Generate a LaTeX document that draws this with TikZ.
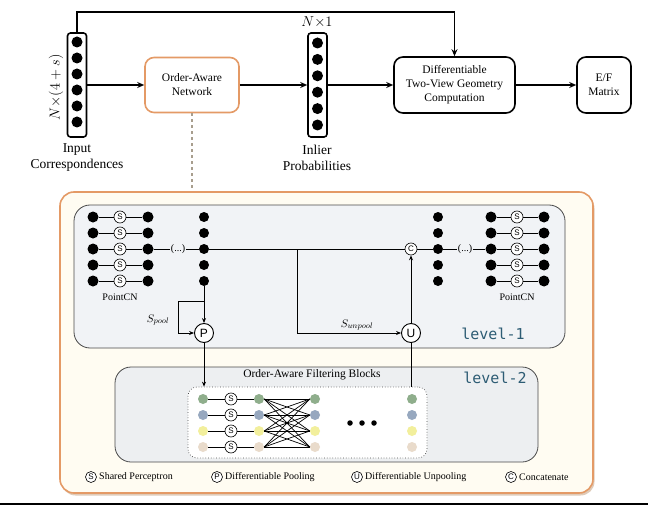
\documentclass[tikz,border=0pt]{standalone}
\usepackage{fontspec}
\setmainfont{Liberation Serif}
\setsansfont{Liberation Sans}
\newfontfamily\serf{Liberation Serif}
\newfontfamily\lvfont{DejaVu Sans Mono}
\usetikzlibrary{arrows.meta,calc,shadows}
\definecolor{orng}{HTML}{E49A66}
\definecolor{cream}{HTML}{FFFCF2}
\definecolor{dashc}{HTML}{A89E8E}
\definecolor{lev}{HTML}{F1F3F6}
\definecolor{levb}{HTML}{EDEFF1}
\definecolor{lvc}{HTML}{2D5C74}
\definecolor{fg}{HTML}{8FAE8C}
\definecolor{fb}{HTML}{97A8BF}
\definecolor{fy}{HTML}{F2EF9C}
\definecolor{fk}{HTML}{E9DBCB}
\definecolor{bordc}{HTML}{4A4A4A}
\definecolor{shad}{HTML}{C9A88A}
\begin{document}
\begin{tikzpicture}[x=1pt,y=-1pt,
 dotn/.style={circle,fill=black,inner sep=0pt,minimum size=11pt},
 sdot/.style={circle,fill=black,inner sep=0pt,minimum size=10pt},
 sc/.style={circle,draw,line width=0.6pt,inner sep=0pt,minimum size=12pt,font=\sffamily\fontsize{8}{8}\selectfont,fill=white},
 bc/.style={circle,draw,line width=0.9pt,inner sep=0pt,minimum size=19pt,font=\sffamily\fontsize{12}{12}\selectfont,fill=white},
 colbox/.style={draw,line width=1.6pt,rounded corners=3pt,minimum width=19pt,minimum height=104pt,inner sep=0pt},
 topbox/.style={draw,line width=1.6pt,rounded corners=9pt,align=center,inner sep=0pt,font=\serf\fontsize{11.5}{14}\selectfont},
 arr/.style={-{Stealth[length=7pt,width=6pt]},line width=1.4pt},
 arrs/.style={-{Stealth[length=5pt,width=4pt]},line width=0.9pt},
 ln/.style={line width=0.9pt},
 lbl/.style={align=center,font=\serf\fontsize{13.5}{16}\selectfont,inner sep=0pt},
 small/.style={font=\serf\fontsize{10}{10}\selectfont,inner sep=0.5pt},
 legt/.style={anchor=west,font=\serf\fontsize{10}{10}\selectfont,inner sep=0pt},
 lvl/.style={font=\lvfont\fontsize{15}{15}\selectfont,text=lvc,inner sep=0pt},
 fdot/.style={circle,inner sep=0pt,minimum size=10pt}
]
\useasboundingbox (0,0) rectangle (648,508);

% ---------- top row ----------
\node[colbox] (inp) at (77,85) {};
\foreach \i in {0,...,5} \node[dotn] (in\i) at (77,{42+16*\i}) {};
\node[lbl,rotate=90] (inlab) at (56,87) {$N{\times}(4+s)$};
\node[lbl] (inptxt) at (77,158) {Input\\Correspondences};

\node[topbox,draw=orng,fill=white,minimum width=94pt,minimum height=55pt] (oan) at (192,85) {Order-Aware\\Network};

\node[colbox] (inl) at (317.5,85) {};
\foreach \i in {0,...,5} \node[dotn] (il\i) at (317.5,{43+16.4*\i}) {};
\node[lbl] (inllab) at (317,22) {$N{\times}1$};
\node[lbl] (inltxt) at (317,158) {Inlier\\Probabilities};

\node[topbox,minimum width=121pt,minimum height=56pt] (diff) at (454.5,85) {Differentiable\\Two-View Geometry\\Computation};
\node[topbox,minimum width=54pt,minimum height=56pt] (ef) at (604,85) {E/F\\Matrix};

\draw[arr] (inp) -- (oan);
\draw[arr] (oan) -- (inl);
\draw[arr] (inl) -- (diff);
\draw[arr] (diff) -- (ef);
\coordinate (topc) at (0,12);
\draw[arr] (inp.north) -- (inp.north |- topc) -| (diff.north);

% ---------- outer box ----------
\node[draw=orng,line width=1.6pt,fill=cream,rounded corners=14pt,minimum width=533pt,minimum height=301pt,inner sep=0pt,
      drop shadow={shadow xshift=1.5pt,shadow yshift=-2.5pt,opacity=0.6,fill=shad}] (outer) at (326.5,342.5) {};
\draw[dashed,draw=dashc,line width=1.3pt] (oan.south) -- (oan.south |- outer.north);

% ---------- level 1 ----------
\node[draw=bordc,line width=0.8pt,fill=lev,rounded corners=16pt,minimum width=491pt,minimum height=143pt,inner sep=0pt] (lv1) at (319.5,276.5) {};

\foreach \i in {0,...,4} {
  \node[dotn] (la\i) at (93,{217+16*\i}) {};
  \node[sc] (ls\i) at (120,{217+16*\i}) {S};
  \node[dotn] (lb\i) at (148,{217+16*\i}) {};
  \draw[ln] (la\i) -- (ls\i) -- (lb\i);
  \node[sdot] (lc\i) at (204,{217+16*\i}) {};
  \node[sdot] (rc\i) at (438,{217+16*\i}) {};
  \node[dotn] (ra\i) at (491,{217+16*\i}) {};
  \node[sc] (rs\i) at (517,{217+16*\i}) {S};
  \node[dotn] (rb\i) at (544,{217+16*\i}) {};
  \draw[ln] (ra\i) -- (rs\i) -- (rb\i);
}
\node[small] (pcl) at (120,297) {PointCN};
\node[small] (pcr) at (517,297) {PointCN};
\node[small] (ld) at (178,249) {(...)};
\node[small] (rd) at (465,249) {(...)};
\draw[ln] (lb2) -- (ld) -- (lc2);
\draw[ln] (rc2) -- (rd) -- (ra2);

\node[sc] (C) at (411,249) {C};
\draw[ln] (lc2) -- (C);
\draw[ln] (C) -- (rc2);
\coordinate (brc) at (297,249);
\node[bc] (U) at (411,333) {U};
\draw[arrs] (brc) |- (U.west);
\node[font=\fontsize{11}{11}\selectfont] (sun) at (357,325) {$S_{unpool}$};
\draw[arrs] (U) -- (C);

\node[bc] (P) at (204,333) {P};
\draw[arrs] (lc4) -- (P);
\coordinate (lp) at (204,301);
\coordinate (lpx) at (178,301);
\draw[arrs] (lp) -- (lpx) |- (P.west);
\node[font=\fontsize{11}{11}\selectfont] (spl) at (158,320) {$S_{pool}$};

\node[lvl] (l1) at (493,334) {level-1};

% ---------- level 2 ----------
\node[draw=bordc,line width=0.8pt,fill=levb,rounded corners=16pt,minimum width=423pt,minimum height=95pt,inner sep=0pt] (lv2) at (326.5,414.5) {};
\node[font=\serf\fontsize{11.5}{11.5}\selectfont,inner sep=0pt] (oafb) at (312,375) {Order-Aware Filtering Blocks};
\node[lvl] (l2) at (495,378) {level-2};
\node[draw=bordc,dotted,line width=0.7pt,fill=white,rounded corners=9pt,minimum width=239pt,minimum height=71pt,inner sep=0pt] (filt) at (307.5,422.5) {};

\draw[arrs] (P) -- (P.south |- filt.north);
\draw[ln] (U) -- (U.south |- filt.north);

\foreach \i/\c in {0/fg,1/fb,2/fy,3/fk} {
  \node[fdot,fill=\c] (fa\i) at (203,{399+16*\i}) {};
  \node[sc] (fs\i) at (231,{399+16*\i}) {S};
  \node[fdot,fill=\c] (fm\i) at (259,{399+16*\i}) {};
  \node[fdot,fill=\c] (fr\i) at (315,{399+16*\i}) {};
  \node[fdot,fill=\c] (ff\i) at (412,{399+16*\i}) {};
  \draw[line width=0.7pt] (fa\i) -- (fs\i) -- (fm\i);
}
\foreach \i in {0,...,3} \foreach \j in {0,...,3} \draw[line width=0.7pt] (fm\i.east) -- (fr\j.west);
\foreach \x [count=\k] in {350,362,374} \node[circle,fill=black,inner sep=0pt,minimum size=5.5pt] (el\k) at (\x,423) {};

% ---------- legend ----------
\node[sc,minimum size=11pt] (gS) at (91,477) {S};
\node[legt] (tS) at (99,477) {Shared Perceptron};
\node[sc,minimum size=11pt] (gP) at (217,477) {P};
\node[legt] (tP) at (225,477) {Differentiable Pooling};
\node[sc,minimum size=11pt] (gU) at (357,477) {U};
\node[legt] (tU) at (365,477) {Differentiable Unpooling};
\node[sc,minimum size=11pt] (gC) at (511,477) {C};
\node[legt] (tC) at (519,477) {Concatenate};

% ---------- bottom rule ----------
\coordinate (bl) at (0,504);
\coordinate (bre) at (648,504);
\draw[line width=2pt] (bl) -- (bre);
\end{tikzpicture}
\end{document}
